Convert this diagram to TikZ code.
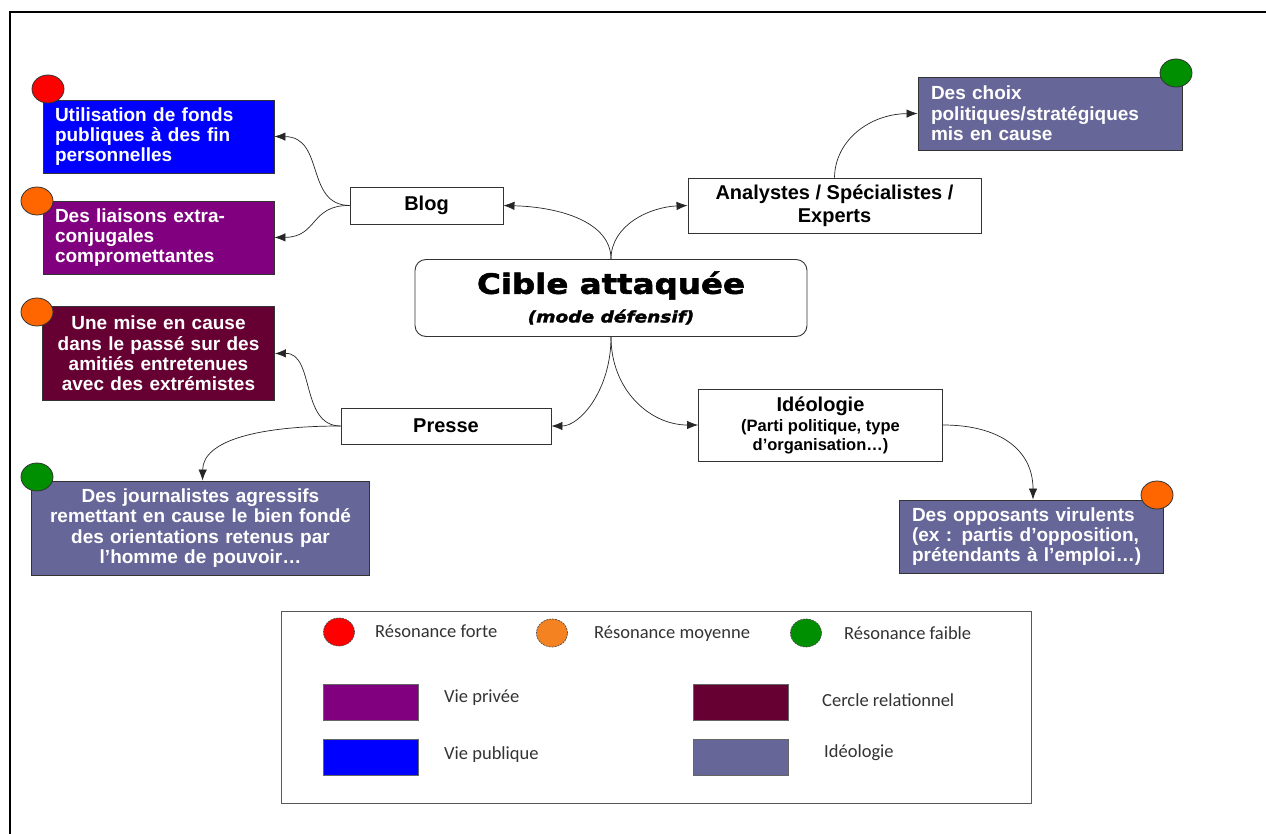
\documentclass[tikz,border=0pt]{standalone}
\usepackage{fontspec}
\setmainfont{Liberation Sans}
\newfontfamily\legfont{Carlito}
\newfontfamily\titlefont{DejaVu Sans}[FakeStretch=1.16,FakeBold=2]
\usetikzlibrary{arrows.meta,shapes.geometric}
\definecolor{cblue}{HTML}{0000FF}
\definecolor{cpurple}{HTML}{800080}
\definecolor{cmaroon}{HTML}{660033}
\definecolor{cslate}{HTML}{666699}
\definecolor{cred}{HTML}{FF0000}
\definecolor{corange}{HTML}{FF6600}
\definecolor{clorange}{HTML}{F58220}
\definecolor{cgreen}{HTML}{008F00}
\definecolor{ctxt}{HTML}{333333}
\tikzset{
  colbox/.style={draw=black!80, line width=0.9pt, inner ysep=0pt, text=white,
    font=\bfseries\fontsize{19}{20.3}\selectfont},
  lbox/.style={draw=black!80, line width=0.9pt, fill=white, inner sep=0pt, align=center,
    font=\bfseries\fontsize{20}{23}\selectfont},
  dot/.style={ellipse, draw=black!80, line width=0.8pt, minimum width=32pt, minimum height=28pt, inner sep=0pt},
  ldot/.style={ellipse, draw=black!70, line width=0.7pt, dashed, dash pattern=on 2pt off 1pt, minimum width=31pt, minimum height=28pt, inner sep=0pt},
  lrect/.style={draw=black!60, line width=0.8pt, minimum width=95pt, minimum height=36pt, inner sep=0pt},
  ltext/.style={anchor=west, inner sep=0pt, text=ctxt, font=\legfont\fontsize{18.5}{21}\selectfont},
  arr/.style={-{Latex[length=11pt,width=8.5pt]}, draw=black!85, line width=0.7pt},
}
\begin{document}
\begin{tikzpicture}[x=1pt,y=-1pt]
\useasboundingbox (0,0) rectangle (1266,834);
\fill[white] (0,0) rectangle (1266,834);
% outer frame
\draw[line width=2pt] (10,834) -- (10,12) -- (1266,12);

% central node
\node[draw=black!80, line width=0.9pt, rounded corners=11pt, minimum width=392pt, minimum height=77pt, align=center, inner sep=0pt] (cible) at (611,298)
  {{\titlefont\bfseries\fontsize{28}{30}\selectfont Cible attaquée}\\[9pt]{\titlefont\bfseries\itshape\fontsize{16}{18}\selectfont (mode défensif)}};

% label boxes
\node[lbox, minimum width=153pt, minimum height=37pt] (blog) at (426.5,205.5) {Blog};
\node[lbox, minimum width=293pt, minimum height=55pt] (analy) at (834.5,205.5) {Analystes / Spécialistes /\\Experts};
\node[lbox, minimum width=210pt, minimum height=36pt] (presse) at (446,426) {Presse};
\node[lbox, minimum width=244pt, minimum height=72pt, font=\bfseries\fontsize{16.5}{18.5}\selectfont] (ideo) at (820.5,425)
  {{\fontsize{20}{20}\selectfont Idéologie}\\[2pt](Parti politique, type\\d’organisation…)};

% coloured boxes
\node[colbox, fill=cblue, minimum width=231pt, minimum height=73pt, text width=207pt, inner xsep=12pt, align=left] (pub) at (158.5,136.5)
  {Utilisation de fonds\\publiques à des fin\\personnelles};
\node[colbox, fill=cpurple, minimum width=231pt, minimum height=73pt, text width=207pt, inner xsep=12pt, align=left] (liai) at (158.5,237.5)
  {Des liaisons extra-\\conjugales\\compromettantes};
\node[colbox, fill=cmaroon, minimum width=232pt, minimum height=94pt, text width=220pt, inner xsep=6pt, align=center] (mise) at (158.5,353.5)
  {Une mise en cause\\dans le passé sur des\\amitiés entretenues\\avec des extrémistes};
\node[colbox, fill=cslate, minimum width=338pt, minimum height=94pt, text width=326pt, inner xsep=6pt, align=center] (journ) at (200.5,528)
  {Des journalistes agressifs\\remettant en cause le bien fondé\\des orientations retenus par\\l’homme de pouvoir…};
\node[colbox, fill=cslate, minimum width=264pt, minimum height=73pt, text width=238pt, inner xsep=13pt, align=left] (choix) at (1050,113.5)
  {Des choix\\politiques/stratégiques\\mis en cause};
\node[colbox, fill=cslate, minimum width=264pt, minimum height=73pt, text width=238pt, inner xsep=13pt, align=left] (oppo) at (1031,536.5)
  {Des opposants virulents\\(ex : partis d’opposition,\\prétendants à l’emploi…)};

% resonance dots
\node[dot, fill=cred] (d1) at (48,89) {};
\node[dot, fill=corange] (d2) at (37,201) {};
\node[dot, fill=corange] (d3) at (37,312) {};
\node[dot, fill=cgreen] (d4) at (37,477) {};
\node[dot, fill=cgreen] (d5) at (1176,73) {};
\node[dot, fill=corange] (d6) at (1157,495) {};

% connectors
\draw[arr] (cible.north) .. controls (611,222) and (560,207) .. (blog.east);
\draw[arr] (cible.north) .. controls (611,225) and (650,207) .. (analy.west);
\draw[arr] (cible.south) .. controls (611,390) and (580,426) .. (presse.east);
\draw[arr] (cible.south) .. controls (611,390) and (650,425) .. (ideo.west);
\draw[arr] (blog.west) .. controls (305,205) and (325,137) .. (pub.east);
\draw[arr] (blog.west) .. controls (310,205) and (318,237) .. (liai.east);
\draw[arr] (analy.north) .. controls (835,140) and (870,114) .. (choix.west);
\draw[arr] (presse.west) .. controls (300,426) and (315,353) .. (mise.east);
\draw[arr] (presse.west) .. controls (260,426) and (203,440) .. ([xshift=2pt]journ.north);
\draw[arr] (ideo.east) .. controls (1000,425) and (1033,450) .. ([xshift=2pt]oppo.north);

% legend
\node[draw=black!65, line width=0.9pt, minimum width=750pt, minimum height=192pt, inner sep=0pt] (legend) at (656,707) {};
\node[ldot, fill=cred] (l1) at (339,632) {};
\node[ldot, fill=clorange] (l2) at (552,633) {};
\node[ldot, fill=cgreen] (l3) at (806,633) {};
\node[ltext] (t1) at (375,631) {Résonance forte};
\node[ltext] (t2) at (594,634) {Résonance moyenne};
\node[ltext] (t3) at (844,633) {Résonance faible};
\node[lrect, fill=cpurple] (r1) at (370.5,702) {};
\node[lrect, fill=cmaroon] (r2) at (740.5,702) {};
\node[lrect, fill=cblue] (r3) at (370.5,757) {};
\node[lrect, fill=cslate] (r4) at (740.5,757) {};
\node[ltext] (t4) at (444,698) {Vie privée};
\node[ltext] (t5) at (822,700) {Cercle relationnel};
\node[ltext] (t6) at (444,755) {Vie publique};
\node[ltext] (t7) at (824,753) {Idéologie};
\end{tikzpicture}
\end{document}
